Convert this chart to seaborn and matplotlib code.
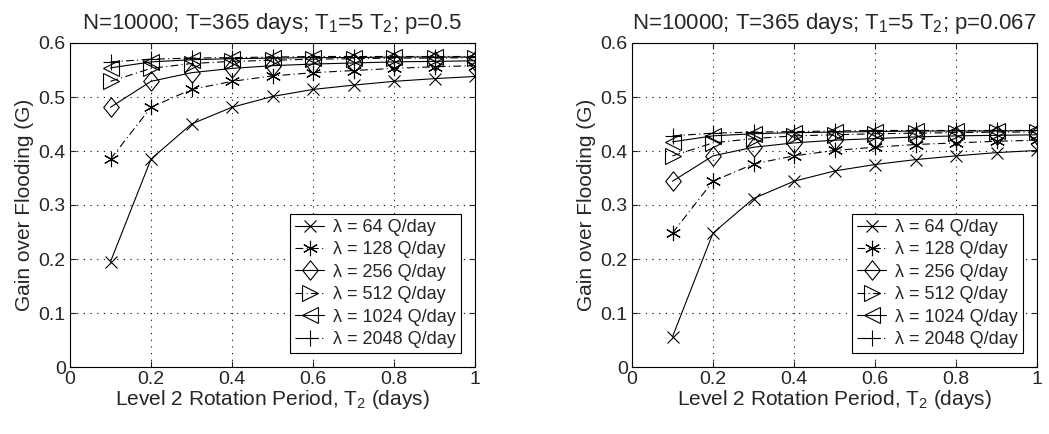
import numpy as np
import pandas as pd
import seaborn as sns
from matplotlib import pyplot as plt
from matplotlib.path import Path

# rotation period T2 (days)
t2 = [0.1, 0.2, 0.3, 0.4, 0.5, 0.6, 0.7, 0.8, 0.9, 1.0]
lambdas = [64, 128, 256, 512, 1024, 2048]

# gain over flooding, p = 0.5
g_p05_64 = [0.195, 0.385, 0.450, 0.481, 0.501, 0.514, 0.522, 0.529, 0.534, 0.538]
g_p05_128 = [0.385, 0.481, 0.514, 0.529, 0.539, 0.545, 0.549, 0.553, 0.556, 0.558]
g_p05_256 = [0.481, 0.529, 0.545, 0.553, 0.558, 0.561, 0.563, 0.565, 0.566, 0.567]
g_p05_512 = [0.529, 0.553, 0.562, 0.566, 0.568, 0.570, 0.571, 0.572, 0.572, 0.573]
g_p05_1024 = [0.554, 0.565, 0.569, 0.571, 0.572, 0.573, 0.573, 0.574, 0.574, 0.574]
g_p05_2048 = [0.565, 0.570, 0.572, 0.573, 0.574, 0.575, 0.575, 0.575, 0.575, 0.575]

# gain over flooding, p = 0.067
g_p067_64 = [0.056, 0.248, 0.312, 0.344, 0.363, 0.375, 0.384, 0.391, 0.397, 0.401]
g_p067_128 = [0.248, 0.344, 0.376, 0.391, 0.401, 0.407, 0.412, 0.415, 0.418, 0.420]
g_p067_256 = [0.344, 0.391, 0.407, 0.415, 0.420, 0.423, 0.426, 0.428, 0.429, 0.430]
g_p067_512 = [0.391, 0.415, 0.423, 0.428, 0.430, 0.432, 0.433, 0.434, 0.435, 0.435]
g_p067_1024 = [0.417, 0.428, 0.432, 0.434, 0.435, 0.436, 0.437, 0.437, 0.437, 0.438]
g_p067_2048 = [0.428, 0.433, 0.435, 0.436, 0.437, 0.438, 0.438, 0.438, 0.438, 0.438]

panels = [
    ("0.5", [g_p05_64, g_p05_128, g_p05_256, g_p05_512, g_p05_1024, g_p05_2048]),
    ("0.067", [g_p067_64, g_p067_128, g_p067_256, g_p067_512, g_p067_1024, g_p067_2048]),
]

# matlab style diamond, a bit taller than wide
diamond = Path([(0, 1), (0.8, 0), (0, -1), (-0.8, 0), (0, 1)],
               [Path.MOVETO, Path.LINETO, Path.LINETO, Path.LINETO, Path.CLOSEPOLY])
markers = ["x", (6, 2, 0), diamond, ">", "<", "+"]
msizes = [8, 11, 14, 11, 11, 11]
styles = ["-", (0, (7, 3, 1, 3)), "-", (0, (7, 3, 1, 3)), "-", (0, (7, 3, 1, 3))]

sns.set_style("ticks")
plt.rcParams["font.family"] = ["Liberation Sans", "DejaVu Sans"]
plt.rcParams["mathtext.fontset"] = "custom"
plt.rcParams["mathtext.rm"] = "Liberation Sans"
plt.rcParams["mathtext.it"] = "Liberation Sans"

fig = plt.figure(figsize=(10.49, 4.34), dpi=100)
lefts = [70 / 1049, 632 / 1049]
for (p, series), left in zip(panels, lefts):
    ax = fig.add_axes([left, 1 - 367 / 434, 405 / 1049, 324 / 434])
    for lam, vals, mk, ms, ls in zip(lambdas, series, markers, msizes, styles):
        df = pd.DataFrame({"T2": t2, "G": vals})
        sns.lineplot(data=df, x="T2", y="G", ax=ax, color="black", lw=0.8,
                     linestyle=ls, marker=mk, markersize=ms, mfc="none",
                     mec="black", mew=0.8, label=f"λ = {lam} Q/day")
    ax.set_xlim(0, 1)
    ax.set_ylim(0, 0.6)
    ax.set_xticks([0, 0.2, 0.4, 0.6, 0.8, 1])
    ax.set_xticklabels(["0", "0.2", "0.4", "0.6", "0.8", "1"])
    ax.set_yticks(np.arange(0, 0.61, 0.1))
    ax.set_yticklabels(["0", "0.1", "0.2", "0.3", "0.4", "0.5", "0.6"])
    ax.grid(True, linestyle=(0, (1, 5)), color="black", lw=0.8)
    ax.tick_params(direction="in", top=True, right=True, labelsize=14, length=4, pad=3)
    for s in ax.spines.values():
        s.set_color("black")
        s.set_linewidth(0.8)
    ax.set_xlabel(r"Level 2 Rotation Period, T$_2$ (days)", fontsize=15, labelpad=0)
    ax.set_ylabel("Gain over Flooding (G)", fontsize=15, labelpad=3)
    ax.set_title(rf"N=10000; T=365 days; T$_1$=5 T$_2$; p={p}", fontsize=16, pad=10)
    leg = ax.legend(loc="lower right", fontsize=13, frameon=True, fancybox=False,
                    edgecolor="black", framealpha=1, borderaxespad=0.75,
                    handlelength=1.6, handletextpad=0.5, labelspacing=0.3,
                    borderpad=0.3)
    leg.get_frame().set_linewidth(0.8)

fig.savefig("out.png", dpi=100)
